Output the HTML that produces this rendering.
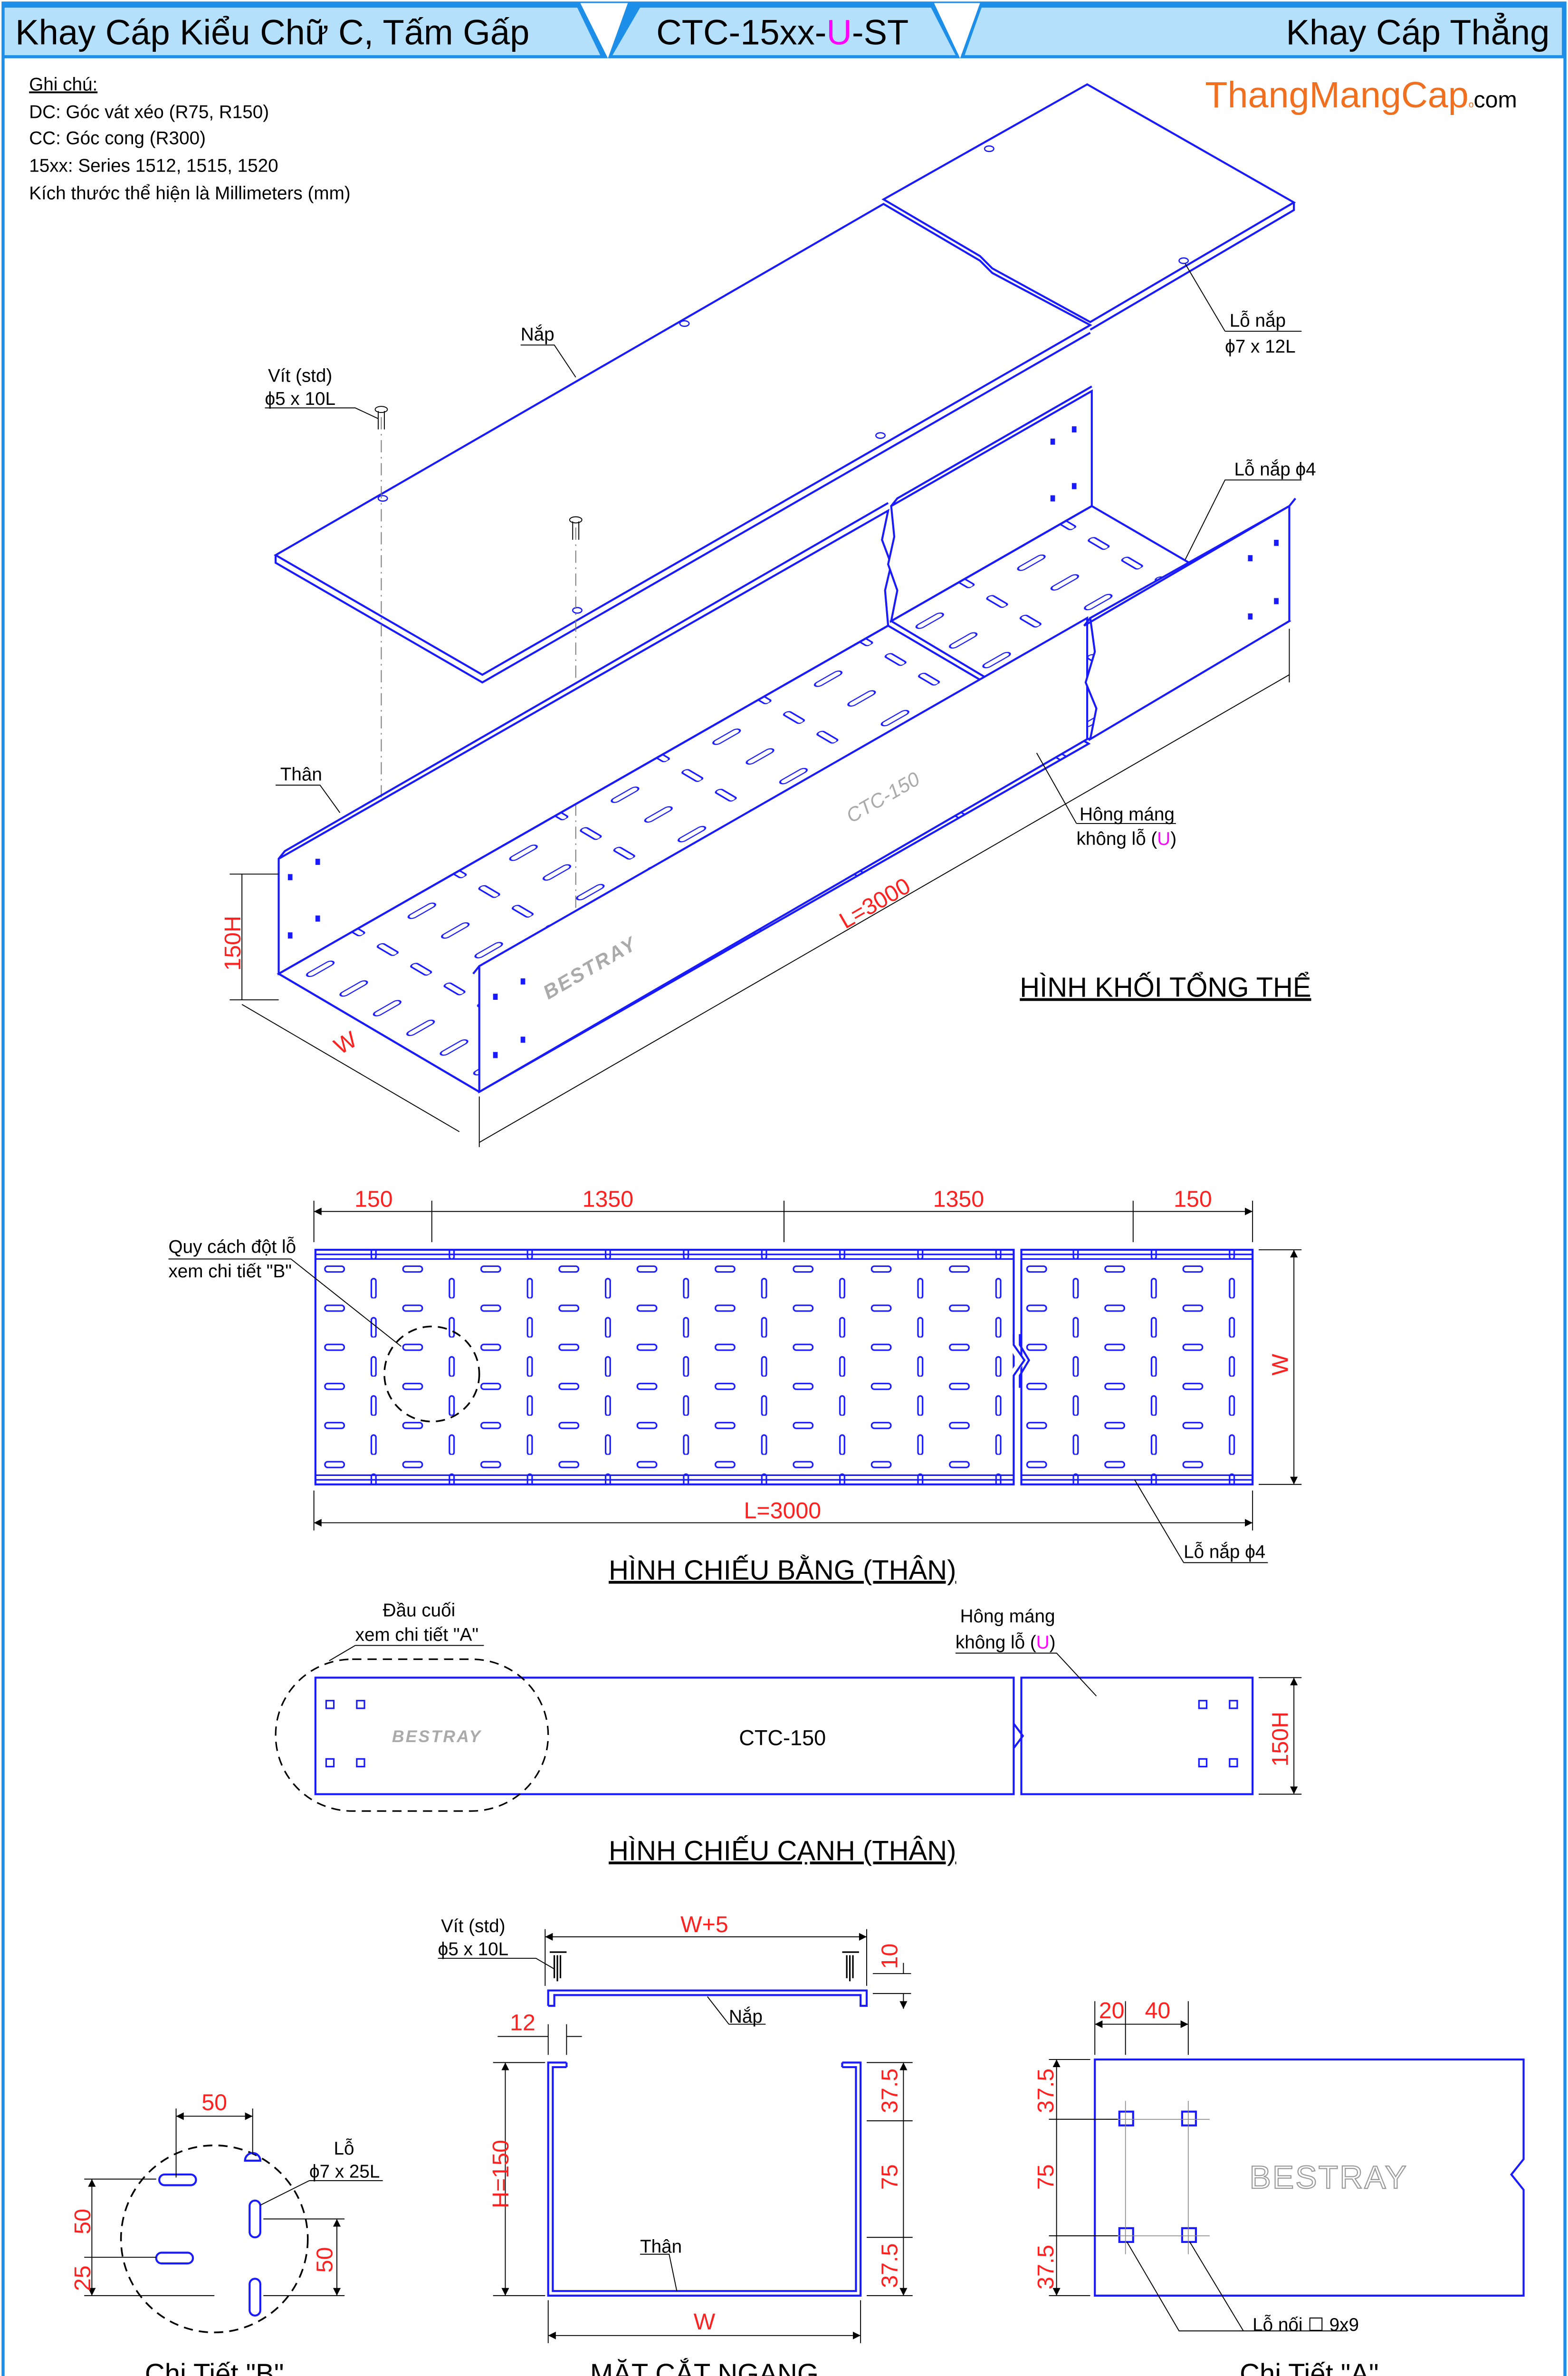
<!DOCTYPE html>
<html><head><meta charset="utf-8"><style>
html,body{margin:0;padding:0;background:#fff;width:3300px;height:5060px;overflow:hidden}
svg{display:block}
text{font-family:"Liberation Sans",sans-serif}
.b{fill:none;stroke:#1a1aff;stroke-width:1.3}
.bw{fill:#fff;stroke:#1a1aff;stroke-width:1.3}
.k{fill:none;stroke:#000;stroke-width:0.6}
.g{fill:none;stroke:#888;stroke-width:0.5}
.r{fill:#ff2020;font-size:15px}
.t{font-size:12px;fill:#000}
.h{font-size:18px;fill:#000;text-decoration:underline}
.gr{fill:#aaa;font-style:italic}
</style></head><body>
<svg width="3300" height="5060" viewBox="0 0 1024 1568" preserveAspectRatio="none" xmlns="http://www.w3.org/2000/svg">
<defs>
<marker id="a" viewBox="0 0 10 10" refX="10" refY="5" markerWidth="7" markerHeight="5" orient="auto-start-reverse" markerUnits="userSpaceOnUse"><path d="M0,0L10,5L0,10z" fill="#000"/></marker>
<pattern id="p1" patternUnits="userSpaceOnUse" x="205.75" y="821.2" width="51" height="25.5">
<rect x="6.45" y="4.5" width="12.6" height="3.75" rx="1.8" fill="none" stroke="#1a1aff" stroke-width="1"/>
<rect x="36.75" y="12.6" width="3" height="12.8" rx="1.5" fill="none" stroke="#1a1aff" stroke-width="1"/></pattern>
<pattern id="p2" patternUnits="userSpaceOnUse" x="664.25" y="821.2" width="51" height="25.5">
<rect x="6.45" y="4.5" width="12.6" height="3.75" rx="1.8" fill="none" stroke="#1a1aff" stroke-width="1"/>
<rect x="36.75" y="12.6" width="3" height="12.8" rx="1.5" fill="none" stroke="#1a1aff" stroke-width="1"/></pattern>
<pattern id="p3" patternUnits="userSpaceOnUse" x="0" y="6" width="51" height="25.5" patternTransform="matrix(1.3007 -0.7418 0.8562 0.5033 182 635)">
<rect x="6.45" y="4.5" width="12.6" height="3.75" rx="1.8" fill="none" stroke="#1a1aff" stroke-width="0.8"/>
<rect x="36.75" y="12.6" width="3" height="12.8" rx="1.5" fill="none" stroke="#1a1aff" stroke-width="0.8"/></pattern>
</defs>
<rect x="0" y="0" width="1024" height="1568" fill="#fff"/>
<!-- header -->
<rect x="2" y="2" width="1020" height="1564" fill="none" stroke="#1e8fe8" stroke-width="2"/>
<rect x="2" y="2" width="1020" height="36" fill="#1e8fe8"/>
<polygon points="3,5 377,5 392,36 3,36" fill="#b4e0fc"/>
<polygon points="418,5 608,5 624,36 400,36" fill="#b4e0fc"/>
<polygon points="641,5 1020,5 1020,36 630,36" fill="#b4e0fc"/>
<polygon points="379,2 410,2 397,38" fill="#fff"/><polygon points="610,2 640,2 627,38" fill="#fff"/>
<text x="10" y="29" font-size="23">Khay Cáp Kiểu Chữ C, Tấm Gấp</text>
<text x="511" y="29" font-size="23" text-anchor="middle">CTC-15xx-<tspan fill="#ff00ff">U</tspan>-ST</text>
<text x="1012" y="29" font-size="23" text-anchor="end">Khay Cáp Thẳng</text>
<!-- notes -->
<g class="t"><text x="19" y="59" text-decoration="underline">Ghi chú:</text>
<text x="19" y="77">DC: Góc vát xéo (R75, R150)</text>
<text x="19" y="94">CC: Góc cong (R300)</text>
<text x="19" y="112">15xx: Series 1512, 1515, 1520</text>
<text x="19" y="130">Kích thước thể hiện là Millimeters (mm)</text></g>
<text x="787" y="70" font-size="24" fill="#f07020">ThangMangCap<tspan font-size="6" fill="#f07020">o</tspan><tspan font-size="15" fill="#000">com</tspan></text>
<!-- ISO: cover -->
<polygon class="bw" points="180,362 577,133 640,170 648,178 712,212 315,440"/>
<polyline class="b" points="180,362 180,367 315,445 712,217"/>
<polygon class="bw" points="577,130 710,55 845,132 712,210 648,175 640,167"/>
<polyline class="b" points="845,132 845,137 712,215"/>
<g class="b" style="stroke-width:0.8"><ellipse cx="447" cy="211" rx="3" ry="1.8"/><ellipse cx="250" cy="325" rx="3" ry="1.8"/><ellipse cx="575" cy="284" rx="3" ry="1.8"/><ellipse cx="377" cy="398" rx="3" ry="1.8"/><ellipse cx="646" cy="97" rx="3" ry="1.8"/><ellipse cx="773" cy="170" rx="3" ry="1.8"/></g>
<!-- screws -->
<g class="k"><path d="M249,272V520M376,344V592" stroke-dasharray="8,3,1,3" stroke="#777"/>
<ellipse cx="249" cy="267" rx="4" ry="2"/><path d="M247,268V280M251,268V280"/>
<ellipse cx="376" cy="339" rx="4" ry="2"/><path d="M374,340V352M378,340V352"/></g>
<!-- back walls -->
<polygon class="bw" points="182,560 580,333 576,352 582,368 578,385 580,408 182,635"/>
<polyline class="b" points="182,560 186,555 580,328"/>
<polygon class="bw" points="582,330 713,255 713,330 582,405 586,385 580,368 584,350"/>
<polyline class="b" points="582,330 586,325 713,252"/>
<g fill="#1a1aff"><rect x="206" y="560" width="3" height="4"/><rect x="188" y="570" width="3" height="4"/><rect x="206" y="597" width="3" height="4"/><rect x="188" y="608" width="3" height="4"/>
<rect x="686" y="286" width="3" height="4"/><rect x="700" y="278" width="3" height="4"/><rect x="686" y="323" width="3" height="4"/><rect x="700" y="315" width="3" height="4"/></g>
<!-- floors -->
<polygon points="182,635 580,408 711,485 313,712" style="fill:url(#p3);stroke:#1a1aff;stroke-width:1.3"/>
<polygon points="582,405 713,330 842,405 711,482" style="fill:url(#p3);stroke:#1a1aff;stroke-width:1.3"/>
<!-- front walls -->
<polygon class="bw" points="313,630 710,403 710,482 313,712"/>
<polyline class="b" points="313,630 309,635"/>
<polygon class="bw" points="712,403 842,330 842,405 712,482 716,462 709,445 715,425"/>
<polyline class="b" points="712,403 708,408 842,330 846,325"/>
<polyline class="b" points="182,635 313,712"/>
<g fill="#1a1aff"><rect x="322" y="686" width="3" height="4"/><rect x="340" y="676" width="3" height="4"/><rect x="322" y="648" width="3" height="4"/><rect x="340" y="638" width="3" height="4"/>
<rect x="815" y="362" width="3" height="4"/><rect x="832" y="352" width="3" height="4"/><rect x="815" y="400" width="3" height="4"/><rect x="832" y="390" width="3" height="4"/></g>
<text x="0" y="0" font-size="13" class="gr" transform="translate(358,652) rotate(-30)" font-weight="bold" letter-spacing="1">BESTRAY</text>
<text x="0" y="0" font-size="13" class="gr" transform="translate(556,537) rotate(-30)">CTC-150</text>
<!-- iso dims -->
<g class="k"><path d="M158,570V652M150,570H182M150,652H182"/><path d="M158,655L300,738M313,715V748M313,745L842,440M842,410V445"/></g>
<text class="r" transform="translate(157,633) rotate(-90)">150H</text>
<text class="r" transform="translate(222,688) rotate(-30)">W</text>
<text class="r" transform="translate(552,606) rotate(-30)">L=3000</text>
<!-- iso labels -->
<g class="t"><text x="340" y="222">Nắp</text><text x="175" y="249">Vít (std)</text><text x="173" y="264">ϕ5 x 10L</text>
<text x="803" y="213">Lỗ nắp</text><text x="800" y="230">ϕ7 x 12L</text><text x="806" y="310">Lỗ nắp ϕ4</text>
<text x="183" y="509">Thân</text><text x="705" y="535">Hông máng</text><text x="703" y="551">không lỗ (<tspan fill="#ff00ff">U</tspan>)</text></g>
<g class="k"><path d="M340,225H362L376,246M173,266H232L247,273M800,216H850M800,216L774,172M806,313H850M806,313H800L774,365M180,512H209L222,530M703,537H768M703,537L677,491"/></g>
<text x="666" y="650" class="h">HÌNH KHỐI TỔNG THỂ</text>
<!-- plan view -->
<g class="k"><path d="M205,783V810M282,783V810M512,783V810M740,783V810M818,783V810"/>
<path d="M205,790H282M282,790H512M512,790H740M740,790H818" marker-start="url(#a)" marker-end="url(#a)"/>
<path d="M205,972V998M818,972V998"/><path d="M205,993H818" marker-start="url(#a)" marker-end="url(#a)"/>
<path d="M822,815H850M822,968H850"/><path d="M845,815V968" marker-start="url(#a)" marker-end="url(#a)"/></g>
<text class="r" x="244" y="787" text-anchor="middle">150</text><text class="r" x="397" y="787" text-anchor="middle">1350</text>
<text class="r" x="626" y="787" text-anchor="middle">1350</text><text class="r" x="779" y="787" text-anchor="middle">150</text>
<text class="r" x="511" y="990" text-anchor="middle">L=3000</text>
<text class="r" transform="translate(841,897) rotate(-90)">W</text>
<rect x="206" y="815" width="456" height="153" style="fill:url(#p1);stroke:#1a1aff;stroke-width:1.3"/>
<rect x="667" y="815" width="151" height="153" style="fill:url(#p2);stroke:#1a1aff;stroke-width:1.3"/>
<g class="b"><path d="M206,818H662M206,821H662M206,962H662M206,965H662M667,818H818M667,821H818M667,962H818M667,965H818" style="stroke-width:1"/></g>
<polyline points="660,876 667,888 660,898" fill="none" stroke="#fff" stroke-width="4"/>
<polyline class="b" points="662,870 662,877 669,887 662,897 662,905"/><polyline class="b" points="666,870 666,877 672,887 666,897 666,905"/>
<circle cx="282" cy="896" r="31" fill="none" stroke="#000" stroke-width="1.1" stroke-dasharray="6,4"/>
<g class="t"><text x="110" y="817">Quy cách đột lỗ</text><text x="110" y="833">xem chi tiết "B"</text><text x="773" y="1016">Lỗ nắp ϕ4</text></g>
<g class="k"><path d="M110,821H190L262,878M773,1019H828M773,1019L741,965"/></g>
<text x="511" y="1030" class="h" text-anchor="middle">HÌNH CHIẾU BẰNG (THÂN)</text>
<!-- side view -->
<rect x="206" y="1094" width="456" height="76" class="b"/><rect x="667" y="1094" width="151" height="76" class="b"/>
<polyline class="b" points="662,1124 668,1132 662,1140"/>
<g class="b" style="stroke-width:1"><rect x="213" y="1109" width="5" height="5"/><rect x="233" y="1109" width="5" height="5"/><rect x="213" y="1147" width="5" height="5"/><rect x="233" y="1147" width="5" height="5"/>
<rect x="783" y="1109" width="5" height="5"/><rect x="803" y="1109" width="5" height="5"/><rect x="783" y="1147" width="5" height="5"/><rect x="803" y="1147" width="5" height="5"/></g>
<text x="256" y="1136" font-size="11" class="gr" font-weight="bold" letter-spacing="1">BESTRAY</text>
<text x="511" y="1138" font-size="14" text-anchor="middle">CTC-150</text>
<rect x="180" y="1082" width="178" height="99" rx="50" ry="49.5" fill="none" stroke="#000" stroke-width="1" stroke-dasharray="6,4"/>
<g class="t"><text x="250" y="1054">Đầu cuối</text><text x="232" y="1070">xem chi tiết "A"</text><text x="627" y="1058">Hông máng</text><text x="624" y="1075">không lỗ (<tspan fill="#ff00ff">U</tspan>)</text></g>
<g class="k"><path d="M232,1073H316M232,1073L215,1083M624,1078H690L716,1106"/>
<path d="M822,1094H850M822,1170H850"/><path d="M845,1094V1170" marker-start="url(#a)" marker-end="url(#a)"/></g>
<text class="r" transform="translate(841,1152) rotate(-90)">150H</text>
<text x="511" y="1213" class="h" text-anchor="middle">HÌNH CHIẾU CẠNH (THÂN)</text>
<!-- cross section -->
<g class="b"><polyline points="358,1308 358,1298 566,1298 566,1308 562,1308 562,1301 362,1301 362,1308 358,1308"/>
<polyline points="370,1345 358,1345 358,1497 562,1497 562,1345 550,1345"/>
<polyline points="370,1348 361,1348 361,1494 559,1494 559,1348 550,1348"/>
<path d="M370,1345V1348M550,1345V1348"/></g>
<g class="k"><path d="M359,1273H370M364,1275V1292M362,1275V1290M366,1275V1290M550,1273H561M555,1275V1292M553,1275V1290M557,1275V1290" stroke-width="1"/>
<path d="M356,1258V1295M566,1258V1295"/><path d="M356,1263H566" marker-start="url(#a)" marker-end="url(#a)"/>
<path d="M570,1287H595M570,1300H595M590,1280V1287M590,1300V1310" marker-end="url(#a)"/>
<path d="M358,1320V1340M370,1320V1340M325,1328H358M370,1328H380"/>
<path d="M322,1345H356M322,1497H356"/><path d="M330,1345V1497" marker-start="url(#a)" marker-end="url(#a)"/>
<path d="M566,1345H596M566,1383H596M566,1459H596M566,1497H596"/><path d="M590,1345V1383M590,1383V1459M590,1459V1497" marker-start="url(#a)" marker-end="url(#a)"/>
<path d="M358,1500V1528M562,1500V1528"/><path d="M358,1523H562" marker-start="url(#a)" marker-end="url(#a)"/>
<path d="M286,1277H350L362,1284M462,1302L476,1320H500M418,1470H437L442,1494"/></g>
<text class="r" x="460" y="1260" text-anchor="middle">W+5</text><text class="r" x="333" y="1324" font-size="13">12</text>
<text class="r" transform="translate(586,1284) rotate(-90)">10</text>
<text class="r" transform="translate(332,1440) rotate(-90)">H=150</text>
<text class="r" transform="translate(586,1378) rotate(-90)">37.5</text>
<text class="r" transform="translate(586,1428) rotate(-90)">75</text>
<text class="r" transform="translate(586,1492) rotate(-90)">37.5</text>
<text class="r" x="460" y="1519" text-anchor="middle">W</text>
<g class="t"><text x="288" y="1260">Vít (std)</text><text x="286" y="1275">ϕ5 x 10L</text><text x="476" y="1319">Nắp</text><text x="418" y="1469">Thân</text></g>
<text x="460" y="1554" class="h" text-anchor="middle">MẶT CẮT NGANG</text>
<!-- detail B -->
<circle cx="140" cy="1460" r="61" fill="none" stroke="#000" stroke-width="1.1" stroke-dasharray="6,4"/>
<g class="b"><rect x="104" y="1418" width="24" height="7" rx="3.5"/><rect x="102" y="1469" width="24" height="7" rx="3.5"/>
<rect x="163" y="1435" width="7" height="24" rx="3.5"/><rect x="163" y="1486" width="7" height="24" rx="3.5"/><path d="M160,1409A4,4 0 0 1 170,1409Z"/></g>
<g class="k"><path d="M115,1375V1420M165,1375V1405"/><path d="M115,1380H165" marker-start="url(#a)" marker-end="url(#a)"/>
<path d="M55,1421H102M55,1472H102M55,1497H140"/><path d="M60,1421V1472M60,1472V1497" marker-start="url(#a)" marker-end="url(#a)"/>
<path d="M172,1447H225M172,1497H225"/><path d="M220,1447V1497" marker-start="url(#a)" marker-end="url(#a)"/>
<path d="M202,1422H250M202,1422L170,1438"/></g>
<text class="r" x="140" y="1376" text-anchor="middle">50</text>
<text class="r" transform="translate(59,1457) rotate(-90)">50</text><text class="r" transform="translate(59,1494) rotate(-90)">25</text>
<text class="r" transform="translate(217,1482) rotate(-90)">50</text>
<g class="t"><text x="218" y="1405">Lỗ</text><text x="202" y="1420">ϕ7 x 25L</text></g>
<text x="140" y="1554" class="h" text-anchor="middle">Chi Tiết "B"</text>
<!-- detail A -->
<polygon class="b" points="715,1343 995,1343 995,1408 987,1418 995,1428 995,1497 715,1497"/>
<g class="b"><rect x="731" y="1377" width="9" height="9"/><rect x="772" y="1377" width="9" height="9"/><rect x="731" y="1453" width="9" height="9"/><rect x="772" y="1453" width="9" height="9"/></g>
<g class="g"><path d="M722,1382H790M722,1458H790M735,1370V1470M776,1370V1470"/></g>
<text x="816" y="1427" font-size="21" letter-spacing="1" style="fill:none;stroke:#999;stroke-width:0.7">BESTRAY</text>
<g class="k"><path d="M715,1305V1340M735,1305V1340M776,1305V1340"/><path d="M715,1320H735M735,1320H776" marker-start="url(#a)" marker-end="url(#a)"/>
<path d="M685,1343H712M685,1382H730M685,1458H730M685,1497H712"/><path d="M690,1343V1382M690,1382V1458M690,1458V1497" marker-start="url(#a)" marker-end="url(#a)"/>
<path d="M736,1462L770,1520H880M777,1462L812,1520"/></g>
<text class="r" x="726" y="1316" text-anchor="middle">20</text><text class="r" x="756" y="1316" text-anchor="middle">40</text>
<text class="r" transform="translate(688,1378) rotate(-90)">37.5</text><text class="r" transform="translate(688,1428) rotate(-90)">75</text>
<text class="r" transform="translate(688,1493) rotate(-90)">37.5</text>
<text x="818" y="1520" class="t">Lỗ nối ☐ 9x9</text>
<text x="855" y="1554" class="h" text-anchor="middle">Chi Tiết "A"</text>
</svg>
</body></html>
